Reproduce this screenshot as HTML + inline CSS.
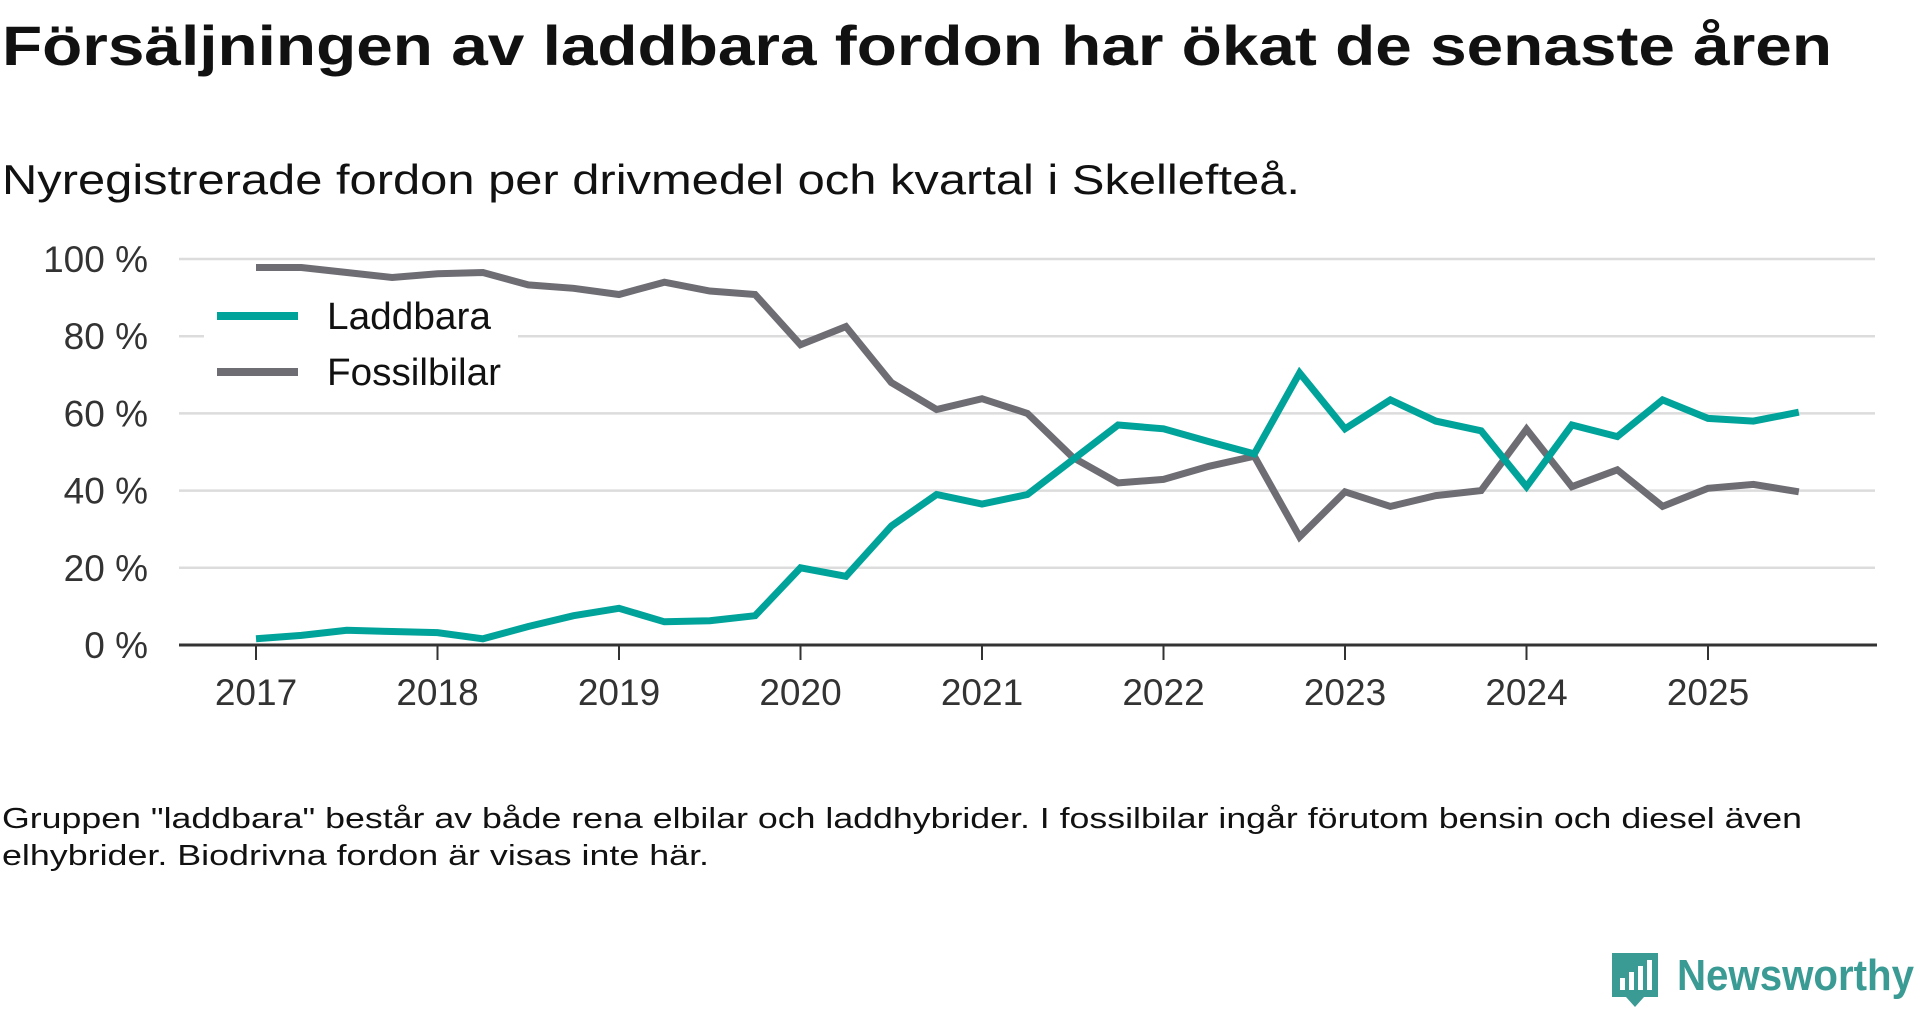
<!DOCTYPE html>
<html><head><meta charset="utf-8"><style>
html,body{margin:0;padding:0;background:#fff;width:1920px;height:1010px;overflow:hidden}
svg{display:block;font-family:"Liberation Sans",sans-serif}
</style></head><body>
<svg id="chart" width="1920" height="1010" viewBox="0 0 1920 1010">
<text x="2" y="65" font-size="56" font-weight="bold" fill="#111" textLength="1830" lengthAdjust="spacingAndGlyphs">Försäljningen av laddbara fordon har ökat de senaste åren</text>
<text x="2" y="194" font-size="42" fill="#111" textLength="1298" lengthAdjust="spacingAndGlyphs">Nyregistrerade fordon per drivmedel och kvartal i Skellefteå.</text>
<g id="grid"></g>
<g id="yticks"></g>
<g id="xticks"></g>
<g id="lines"></g>
<g>
<rect x="204" y="292" width="314" height="100" fill="#fff"/>
<line x1="217" y1="316" x2="298" y2="316" stroke="#00a39a" stroke-width="8"/>
<text x="327" y="329" font-size="38" fill="#111" textLength="164" lengthAdjust="spacingAndGlyphs">Laddbara</text>
<line x1="217" y1="372" x2="298" y2="372" stroke="#6e6d74" stroke-width="8"/>
<text x="327" y="385" font-size="38" fill="#111" textLength="174" lengthAdjust="spacingAndGlyphs">Fossilbilar</text>
</g>
<text x="2" y="828" font-size="29" fill="#111" textLength="1800" lengthAdjust="spacingAndGlyphs">Gruppen "laddbara" består av både rena elbilar och laddhybrider. I fossilbilar ingår förutom bensin och diesel även</text>
<text x="2" y="865" font-size="29" fill="#111" textLength="707" lengthAdjust="spacingAndGlyphs">elhybrider. Biodrivna fordon är visas inte här.</text>
<g>
<path d="M1612 953 h46 v44 h-14 l-9 10 l-9 -10 h-14 z" fill="#3a9a94"/>
<rect x="1620" y="978" width="5" height="12" fill="#fff"/><rect x="1629" y="972" width="5" height="18" fill="#fff"/><rect x="1638" y="966" width="5" height="24" fill="#fff"/><rect x="1647" y="960" width="5" height="30" fill="#fff"/>
<text x="1677" y="990" font-size="44" font-weight="bold" fill="#3a9a94" textLength="237" lengthAdjust="spacingAndGlyphs">Newsworthy</text>
</g>
</svg>
<script>
const quarters = ["2017Q1","2017Q2","2017Q3","2017Q4","2018Q1","2018Q2","2018Q3","2018Q4","2019Q1","2019Q2","2019Q3","2019Q4","2020Q1","2020Q2","2020Q3","2020Q4","2021Q1","2021Q2","2021Q3","2021Q4","2022Q1","2022Q2","2022Q3","2022Q4","2023Q1","2023Q2","2023Q3","2023Q4","2024Q1","2024Q2","2024Q3","2024Q4","2025Q1","2025Q2","2025Q3"];
const laddbara = [1.6,2.5,3.8,3.5,3.2,1.6,4.8,7.6,9.5,6,6.3,7.6,20,17.8,30.8,39,36.5,39,48,57,56,52.7,49.5,70.5,56,63.5,58,55.5,41,57,54,63.5,58.7,58,60.3];
const fossilbilar = [97.8,97.8,96.5,95.2,96.2,96.5,93.3,92.4,90.8,94,91.7,90.8,77.8,82.5,68,61,63.8,60,48.6,42,42.9,46.3,48.9,28,39.7,35.9,38.7,40,55.9,41,45.4,35.9,40.6,41.6,39.7];
const yTicks = [0,20,40,60,80,100];
const xYears = [2017,2018,2019,2020,2021,2022,2023,2024,2025];

const NS="http://www.w3.org/2000/svg";
function x(t){return 256+(t-2017)*181.5;}
function y(v){return 645-v*3.86;}
function qToT(q){return +q.slice(0,4)+(+q.slice(5)-1)/4;}
function mk(tag,attrs,parent){const e=document.createElementNS(NS,tag);for(const k in attrs)e.setAttribute(k,attrs[k]);parent.appendChild(e);return e;}
const grid=document.getElementById('grid'),yt=document.getElementById('yticks'),xt=document.getElementById('xticks'),lines=document.getElementById('lines');
yTicks.forEach(v=>{
  if(v>0){const g=mk('line',{x1:179,x2:1875,y1:y(v),y2:y(v),stroke:'#dcdcdc','stroke-width':2.5},grid);
  
  }
  const t=mk('text',{x:148,y:y(v)+13,'font-size':37,fill:'#333','text-anchor':'end'},yt);
  t.textContent=v+' %';
  
  
});
const ax=mk('line',{x1:179,x2:1877,y1:y(0),y2:y(0),stroke:'#333','stroke-width':3},xt);


xYears.forEach(yr=>{
  const tk=mk('line',{x1:x(yr),x2:x(yr),y1:y(0),y2:y(0)+15,stroke:'#333','stroke-width':2},xt);
  
  
  const t=mk('text',{x:x(yr),y:705,'font-size':37,fill:'#333','text-anchor':'middle'},xt);
  t.textContent=yr;
  
  
});
function draw(vals,color,name){
  const d=vals.map((v,i)=>(i?'L':'M')+x(qToT(quarters[i])).toFixed(1)+' '+y(v).toFixed(1)).join(' ');
  const p=mk('path',{d:d,fill:'none',stroke:color,'stroke-width':7,'stroke-linejoin':'miter'},lines);
  
  
}
draw(fossilbilar,'#6e6d74','line-fossilbilar');
draw(laddbara,'#00a39a','line-laddbara');
</script>
</body></html>
